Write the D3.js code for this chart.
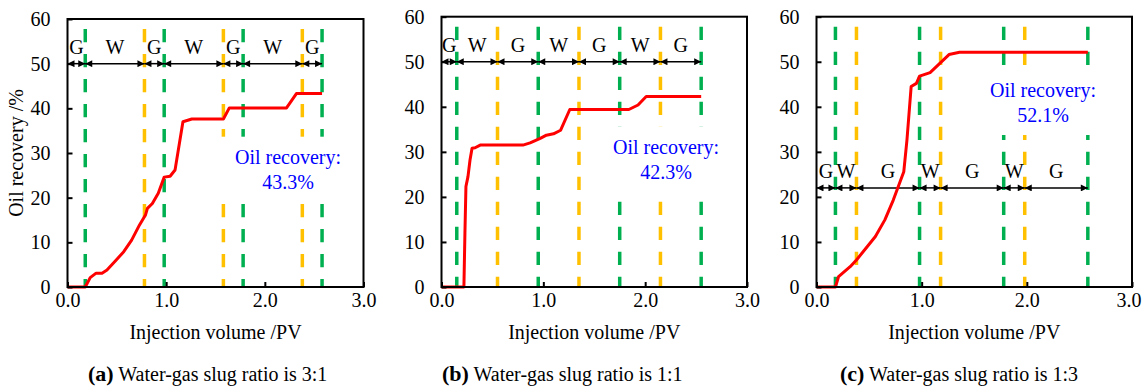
<!DOCTYPE html>
<html>
<head>
<meta charset="utf-8">
<script src="https://cdn.jsdelivr.net/npm/d3@7"></script>
<style>
  html, body { margin: 0; padding: 0; background: #fff; }
  svg, svg text { font-family: "Liberation Serif", "Times New Roman", Times, serif; }
</style>
</head>
<body>
<svg id="chart" width="1142" height="386"></svg>
<script>
// Axis ticks
const xTickValues = [0, 1, 2, 3];
const yTickValues = [0, 10, 20, 30, 40, 50, 60];

// (a) water-gas slug ratio 3:1
const pvA  = [0, 0.18, 0.23, 0.29, 0.35, 0.40, 0.48, 0.57, 0.65, 0.73, 0.79, 0.81, 0.86, 0.92, 0.98, 1.04, 1.09, 1.17, 1.26, 1.58, 1.64, 2.22, 2.32, 2.58];
const oilA = [0, 0, 2.1, 3.1, 3.1, 3.8, 5.7, 7.9, 10.5, 13.9, 16.1, 17.6, 18.7, 21.0, 24.6, 24.8, 26.2, 37.0, 37.6, 37.6, 40.1, 40.1, 43.3, 43.3];
const boundsA = [0, 0.18, 0.78, 0.98, 1.58, 1.78, 2.38, 2.58];
const slugsA  = ["G", "W", "G", "W", "G", "W", "G"];

// (b) water-gas slug ratio 1:1
const pvB  = [0, 0.22, 0.23, 0.24, 0.26, 0.28, 0.30, 0.33, 0.38, 0.80, 0.87, 0.92, 0.97, 1.03, 1.10, 1.17, 1.26, 1.84, 1.93, 2.01, 2.55];
const oilB = [0, 0, 11.9, 22.3, 24.5, 28.2, 30.8, 30.9, 31.5, 31.5, 32.0, 32.5, 33.0, 33.7, 34.0, 34.8, 39.4, 39.4, 40.4, 42.3, 42.3];
const boundsB = [0, 0.15, 0.55, 0.95, 1.35, 1.75, 2.15, 2.55];
const slugsB  = ["G", "W", "G", "W", "G", "W", "G"];

// (c) water-gas slug ratio 1:3
const pvC  = [0, 0.18, 0.21, 0.32, 0.38, 0.47, 0.56, 0.65, 0.73, 0.83, 0.86, 0.90, 0.95, 0.98, 1.08, 1.17, 1.26, 1.36, 2.58];
const oilC = [0, 0, 2.3, 4.5, 6.0, 8.6, 11.2, 14.9, 19.3, 25.6, 32.6, 44.5, 45.2, 46.8, 47.6, 49.6, 51.6, 52.1, 52.1];
const boundsC = [0, 0.18, 0.38, 0.98, 1.18, 1.78, 1.98, 2.58];
const slugsC  = ["G", "W", "G", "W", "G", "W", "G"];

const finalRecovery = ["43.3%", "42.3%", "52.1%"];
const panelLetters = ["(a)", "(b)", "(c)"];
const ratioLabels = ["3:1", "1:1", "1:3"];

const FONT = "'Liberation Serif', 'Times New Roman', Times, serif";
const GREEN = "#00B050", AMBER = "#FFC000", RED = "#FF0000", BLUE = "#0000FF";

const panels = [
  { left: 67.5,  right: 363.5, top: 19,   bottom: 287, pv: pvA, oil: oilA, bounds: boundsA, slugs: slugsA,
    arrowValue: 50, note: [288, 156.7], captionX: 88 },
  { left: 441.5, right: 747,   top: 16.7, bottom: 287, pv: pvB, oil: oilB, bounds: boundsB, slugs: slugsB,
    arrowValue: 50, note: [666, 146.7], captionX: 442 },
  { left: 816.5, right: 1132,  top: 16.7, bottom: 287, pv: pvC, oil: oilC, bounds: boundsC, slugs: slugsC,
    arrowValue: 22, note: [1043, 90], captionX: 840 }
];

const svg = d3.select("#chart").attr("font-family", FONT);

const defs = svg.append("defs");
defs.append("marker")
  .attr("id", "head")
  .attr("viewBox", "0 0 10 10")
  .attr("refX", 10).attr("refY", 5)
  .attr("markerUnits", "userSpaceOnUse")
  .attr("markerWidth", 9).attr("markerHeight", 7)
  .attr("orient", "auto-start-reverse")
  .append("path")
  .attr("d", "M0,0 L10,5 L0,10 Z")
  .attr("fill", "#000");

panels.forEach((p, i) => {
  const x = d3.scaleLinear().domain([0, 3]).range([p.left, p.right]);
  const y = d3.scaleLinear().domain([0, 60]).range([p.bottom, p.top]);
  const g = svg.append("g");

  // slug boundary lines (green: water starts / end, amber: gas starts)
  const lines = p.bounds.slice(1).map((b, k) => ({
    v: b,
    color: (k + 1 < p.slugs.length && p.slugs[k + 1] === "G") ? AMBER : GREEN
  }));
  g.append("g").selectAll("line").data(lines).join("line")
    .attr("x1", d => x(d.v)).attr("x2", d => x(d.v))
    .attr("y1", p.top + 10).attr("y2", p.bottom)
    .attr("stroke", d => d.color)
    .attr("stroke-width", 3.5)
    .attr("stroke-dasharray", "13.3,11.7");

  // white box behind the recovery note
  g.append("rect")
    .attr("x", p.note[0] - 73).attr("y", p.note[1] - 20)
    .attr("width", 146).attr("height", 65)
    .attr("fill", "#fff");

  // slug arrows and labels
  const segs = p.slugs.map((s, k) => ({ s, a: p.bounds[k], b: p.bounds[k + 1] }));
  const ay = y(p.arrowValue);
  g.append("g").selectAll("line").data(segs).join("line")
    .attr("x1", d => x(d.a)).attr("x2", d => x(d.b))
    .attr("y1", ay).attr("y2", ay)
    .attr("stroke", "#000").attr("stroke-width", 1.5)
    .attr("marker-start", "url(#head)")
    .attr("marker-end", "url(#head)");
  g.append("g").selectAll("text").data(segs).join("text")
    .attr("x", d => x((d.a + d.b) / 2))
    .attr("y", ay - 10)
    .attr("text-anchor", "middle")
    .attr("font-family", FONT)
    .attr("font-size", 20)
    .text(d => d.s);

  // recovery curve
  const line = d3.line().x(d => x(d[0])).y(d => y(d[1]));
  g.append("path")
    .datum(p.pv.map((v, k) => [v, p.oil[k]]))
    .attr("d", line)
    .attr("fill", "none")
    .attr("stroke", RED)
    .attr("stroke-width", 3)
    .attr("stroke-linejoin", "round");

  // recovery note
  const note = g.append("text")
    .attr("text-anchor", "middle")
    .attr("font-family", FONT)
    .attr("font-size", 20)
    .attr("fill", BLUE);
  note.append("tspan").attr("x", p.note[0]).attr("y", p.note[1] + 7).text("Oil recovery:");
  note.append("tspan").attr("x", p.note[0]).attr("y", p.note[1] + 32).text(finalRecovery[i]);

  // axes
  const yAxis = d3.axisLeft(y).tickValues(yTickValues).tickSize(-5).tickPadding(17);
  const xAxis = d3.axisBottom(x).tickValues(xTickValues).tickFormat(d3.format(".1f")).tickSize(-5).tickPadding(6);
  const ya = g.append("g").attr("transform", `translate(${p.left},0)`).call(yAxis);
  const xa = g.append("g").attr("transform", `translate(0,${p.bottom})`).call(xAxis);
  [ya, xa].forEach(a => {
    a.attr("font-family", FONT).attr("font-size", 20);
    a.select(".domain").remove();
    a.selectAll(".tick line").attr("stroke", "#000").attr("stroke-width", 2);
    a.selectAll(".tick text").attr("font-size", 20).attr("fill", "#000").attr("font-family", FONT);
  });
  // keep the last label of the right-hand panel inside the page
  if (i === panels.length - 1) {
    xa.selectAll(".tick text").filter(d => d === 3).attr("text-anchor", "end").attr("x", 9);
  }

  // frame
  g.append("rect")
    .attr("x", p.left).attr("y", p.top)
    .attr("width", p.right - p.left).attr("height", p.bottom - p.top)
    .attr("fill", "none").attr("stroke", "#000").attr("stroke-width", 2);

  // axis title
  g.append("text")
    .attr("x", (p.left + p.right) / 2).attr("y", 339)
    .attr("text-anchor", "middle").attr("font-size", 20).attr("font-family", FONT)
    .text("Injection volume /PV");

  // caption
  const cap = g.append("text").attr("x", p.captionX).attr("y", 381)
    .attr("font-size", 20).attr("font-family", FONT);
  cap.append("tspan").attr("font-weight", "bold").attr("font-size", 22).text(panelLetters[i]);
  cap.append("tspan").text(" Water-gas slug ratio is " + ratioLabels[i]);
});

// y-axis title
svg.append("text")
  .attr("transform", "translate(23,153) rotate(-90)")
  .attr("text-anchor", "middle").attr("font-size", 20).attr("font-family", FONT)
  .text("Oil recovery /%");
</script>
</body>
</html>
